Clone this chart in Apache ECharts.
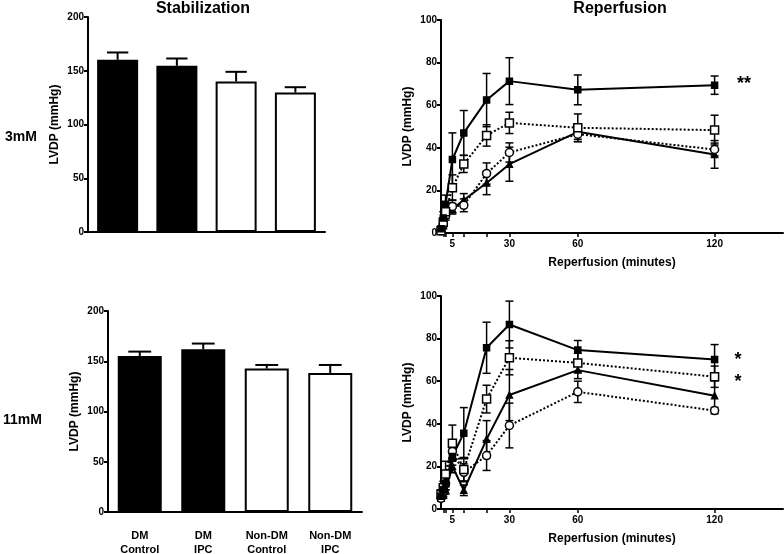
<!DOCTYPE html>
<html>
<head>
<meta charset="utf-8">
<script src="https://cdn.jsdelivr.net/npm/echarts@6/dist/echarts.min.js"></script>
<style>
html, body { margin: 0; padding: 0; background: #fff; }
#main { width: 784px; height: 554px; }
</style>
</head>
<body>
<div id="main"></div>
<script>
// bar panels (stabilization)
var barCats = ["DM\nControl", "DM\nIPC", "Non-DM\nControl", "Non-DM\nIPC"];
var barFill = ["#000", "#000", "#fff", "#fff"];
var stab3 = [160.2, 154.6, 140, 129.7];
var stab3Err = [6.8, 6.8, 9, 5];
var stab11 = [155.2, 161.9, 142.7, 138.3];
var stab11Err = [4.4, 5.7, 3.6, 8];

// line panels (reperfusion)
var timePoints = [0, 1, 2, 5, 10, 20, 30, 60, 120];
var xTicks = [1, 2, 5, 10, 20, 30, 60, 120];
var xLabels = [5, 30, 60, 120];

var a3 = [2, 7, 13.5, 34.5, 47, 62.4, 71.3, 67.2, 69.4];
var a3Err = [1, 3, 4.3, 12.5, 10.5, 12.5, 11, 7, 4.3];
var b3 = [1, 5, 10, 21.3, 32.4, 45.8, 51.7, 49.4, 48.3];
var b3Err = [1, 2, 3, 6, 4, 5, 5, 6.5, 7];
var c3 = [1, 4, 8, 12.5, 13, 27.9, 37.8, 46.4, 39.2];
var c3Err = [1, 2, 2, 3, 3, 5, 4.5, 3.5, 3];
var d3 = [2, 5, 9, 11.4, 15.5, 23.5, 32.3, 47.5, 36.9];
var d3Err = [1, 2, 2, 2.5, 3, 5.5, 8, 3.5, 6.5];

var a11 = [6, 9, 12, 24.6, 35.6, 75.7, 86.6, 74.6, 70.2];
var a11Err = [1, 2, 3, 4, 12, 12, 11, 4.5, 7];
var b11 = [7, 10, 16.4, 30.9, 18.5, 51.6, 71, 68.6, 62.1];
var b11Err = [2, 3, 6, 8.5, 5.7, 6.5, 8, 4.5, 5];
var c11 = [5, 8, 12, 27, 17.2, 25.1, 39.2, 55, 46.2];
var c11Err = [1, 2, 3, 4, 4, 7, 10.5, 5, 1.5];
var d11 = [5, 7, 9, 20, 8.8, 32.8, 53.5, 65.2, 53.2];
var d11Err = [1, 2, 2, 3, 2.5, 8.7, 12, 4, 7];

var FONT = "'Liberation Sans', Arial, Helvetica, sans-serif";

(function() {
  var myChart = echarts.init(document.getElementById("main"));

  function pairs(vals) {
    return timePoints.map(function(t, i) { return [t, vals[i]]; });
  }
  function errRows(vals, errs) {
    return timePoints.map(function(t, i) { return [t, vals[i] - errs[i], vals[i] + errs[i]]; });
  }

  var axisLineStyle = { show: true, lineStyle: { color: "#000", width: 2 } };
  var labelStyle = { color: "#000", fontWeight: "bold", fontSize: 10, fontFamily: FONT };
  var nameStyle = { color: "#000", fontWeight: "bold", fontSize: 12, fontFamily: FONT };

  function barX(idx, showLabels) {
    return {
      type: "category", gridIndex: idx, data: barCats,
      axisLine: axisLineStyle,
      axisTick: { show: false },
      axisLabel: showLabels ? {
        show: true, interval: 0, margin: 17, color: "#000", fontWeight: "bold",
        fontSize: 11, fontFamily: FONT, lineHeight: 14
      } : { show: false }
    };
  }
  function barY(idx) {
    return {
      type: "value", gridIndex: idx, min: 0, max: 200, interval: 50,
      name: "LVDP (mmHg)", nameLocation: "middle", nameGap: 27, nameTextStyle: nameStyle,
      axisLine: axisLineStyle,
      axisTick: { show: true, length: 4, lineStyle: { width: 2, color: "#000" } },
      axisLabel: Object.assign({ margin: 4 }, labelStyle),
      splitLine: { show: false }
    };
  }
  function lineX(idx) {
    return {
      type: "value", gridIndex: idx, min: 0, max: 150,
      name: "Reperfusion (minutes)", nameLocation: "middle", nameGap: 24, nameTextStyle: nameStyle,
      axisLine: axisLineStyle,
      axisTick: { show: true, length: 4, customValues: xTicks, lineStyle: { width: 1.5, color: "#000" } },
      axisLabel: Object.assign({ margin: 6, customValues: xLabels }, labelStyle),
      splitLine: { show: false }
    };
  }
  function lineY(idx) {
    return {
      type: "value", gridIndex: idx, min: 0, max: 100, interval: 20,
      name: "LVDP (mmHg)", nameLocation: "middle", nameGap: 27, nameTextStyle: nameStyle,
      axisLine: axisLineStyle,
      axisTick: { show: true, length: 4, lineStyle: { width: 2, color: "#000" } },
      axisLabel: Object.assign({ margin: 4 }, labelStyle),
      splitLine: { show: false }
    };
  }

  // error bars for the bar panels: upward whisker with a cap
  function barErrSeries(idx, vals, errs) {
    return {
      type: "custom", xAxisIndex: idx, yAxisIndex: idx, z: 1, silent: true,
      data: vals.map(function(v, i) { return [i, v, v + errs[i]]; }),
      renderItem: function(params, api) {
        var base = api.coord([api.value(0), api.value(1)]);
        var top = api.coord([api.value(0), api.value(2)]);
        var half = api.size([1, 0])[0] * 0.18;
        var st = { stroke: "#000", lineWidth: 2 };
        return {
          type: "group", children: [
            { type: "line", shape: { x1: base[0], y1: base[1], x2: top[0], y2: top[1] }, style: st },
            { type: "line", shape: { x1: top[0] - half, y1: top[1], x2: top[0] + half, y2: top[1] }, style: st }
          ]
        };
      }
    };
  }
  function barSeries(idx, vals, width) {
    return {
      type: "bar", xAxisIndex: idx, yAxisIndex: idx, z: 2, barWidth: width, silent: true,
      data: vals.map(function(v, i) {
        return { value: v, itemStyle: { color: barFill[i], borderColor: "#000", borderWidth: 2 } };
      })
    };
  }

  // symmetric error bars for the line panels
  function lineErrSeries(idx, vals, errs) {
    return {
      type: "custom", xAxisIndex: idx, yAxisIndex: idx, z: 1, silent: true,
      data: errRows(vals, errs),
      renderItem: function(params, api) {
        var lo = api.coord([api.value(0), api.value(1)]);
        var hi = api.coord([api.value(0), api.value(2)]);
        var st = { stroke: "#000", lineWidth: 1.5 };
        return {
          type: "group", children: [
            { type: "line", shape: { x1: lo[0], y1: lo[1], x2: hi[0], y2: hi[1] }, style: st },
            { type: "line", shape: { x1: lo[0] - 4, y1: lo[1], x2: lo[0] + 4, y2: lo[1] }, style: st },
            { type: "line", shape: { x1: hi[0] - 4, y1: hi[1], x2: hi[0] + 4, y2: hi[1] }, style: st }
          ]
        };
      }
    };
  }
  function lineSeries(idx, name, vals, kind) {
    var styles = {
      fillSquare: { symbol: "rect", size: 6, fill: "#000", dash: "solid" },
      openSquare: { symbol: "rect", size: 8, fill: "#fff", dash: [2, 2] },
      openCircle: { symbol: "circle", size: 8, fill: "#fff", dash: [2, 2] },
      fillTri: { symbol: "triangle", size: 6, fill: "#000", dash: "solid" }
    }[kind];
    return {
      name: name, type: "line", xAxisIndex: idx, yAxisIndex: idx, z: 3, silent: true,
      data: pairs(vals),
      symbol: styles.symbol, symbolSize: styles.size, showSymbol: true,
      lineStyle: { color: "#000", width: 2, type: styles.dash },
      itemStyle: { color: styles.fill, borderColor: "#000", borderWidth: 1.5 }
    };
  }

  function txt(x, y, text, size, align) {
    return {
      type: "text", x: x, y: y,
      style: { text: text, fill: "#000", font: "bold " + size + "px " + FONT, align: align || "center", verticalAlign: "middle" }
    };
  }

  var option = {
    animation: false,
    backgroundColor: "#fff",
    grid: [
      { left: 88, top: 17, width: 237, height: 215, outerBoundsMode: "none" },
      { left: 108, top: 311, width: 254, height: 201, outerBoundsMode: "none" },
      { left: 441, top: 20, width: 342, height: 213, outerBoundsMode: "none" },
      { left: 441, top: 296, width: 342, height: 213, outerBoundsMode: "none" }
    ],
    xAxis: [barX(0, false), barX(1, true), lineX(2), lineX(3)],
    yAxis: [barY(0), barY(1), lineY(2), lineY(3)],
    graphic: [
      txt(203, 9, "Stabilization", 16),
      txt(620, 9, "Reperfusion", 16),
      txt(5, 137, "3mM", 14, "left"),
      txt(3, 420, "11mM", 14, "left"),
      txt(744, 84, "**", 18),
      txt(738, 360, "*", 18),
      txt(738, 382, "*", 18)
    ],
    series: [
      barErrSeries(0, stab3, stab3Err),
      barSeries(0, stab3, 41),
      barErrSeries(1, stab11, stab11Err),
      barSeries(1, stab11, 44),

      lineErrSeries(2, a3, a3Err),
      lineErrSeries(2, b3, b3Err),
      lineErrSeries(2, c3, c3Err),
      lineErrSeries(2, d3, d3Err),
      lineSeries(2, "DM Control", d3, "fillTri"),
      lineSeries(2, "Non-DM IPC", c3, "openCircle"),
      lineSeries(2, "Non-DM Control", b3, "openSquare"),
      lineSeries(2, "DM IPC", a3, "fillSquare"),

      lineErrSeries(3, a11, a11Err),
      lineErrSeries(3, b11, b11Err),
      lineErrSeries(3, c11, c11Err),
      lineErrSeries(3, d11, d11Err),
      lineSeries(3, "DM Control", d11, "fillTri"),
      lineSeries(3, "Non-DM IPC", c11, "openCircle"),
      lineSeries(3, "Non-DM Control", b11, "openSquare"),
      lineSeries(3, "DM IPC", a11, "fillSquare")
    ]
  };
  myChart.setOption(option);
  window.addEventListener("resize", function() {
    myChart.resize();
  });
})();
</script>
</body>
</html>
